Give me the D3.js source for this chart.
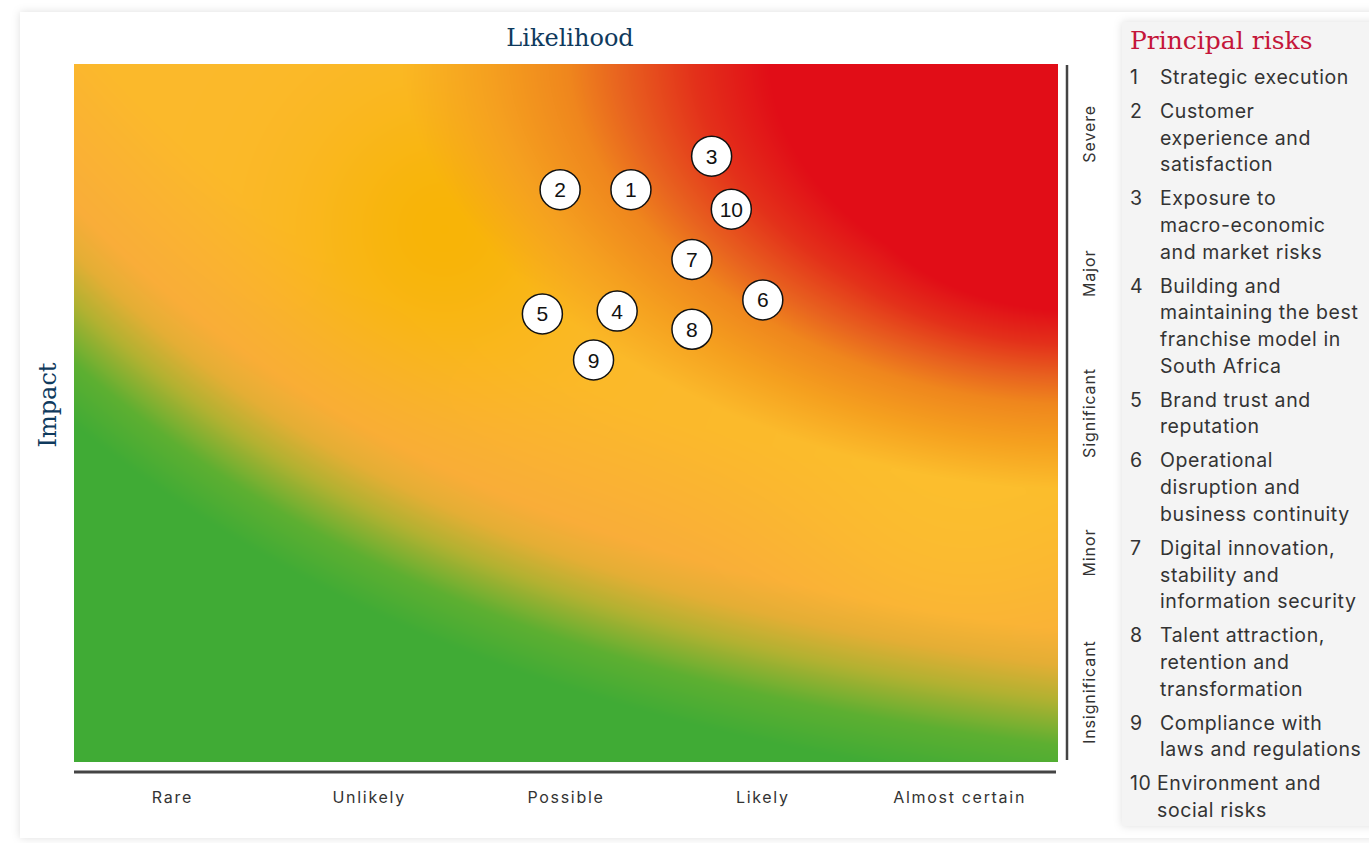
<!DOCTYPE html>
<html>
<head>
<meta charset="utf-8">
<script src="https://cdn.jsdelivr.net/npm/d3@7"></script>
<style>
  html, body { margin: 0; padding: 0; background: #ffffff; }
  svg { display: block; }
</style>
</head>
<body>
<svg id="chart" width="1369" height="843"></svg>
<script>
// ---- Data -------------------------------------------------------------
const likelihoodLabels = ["Rare", "Unlikely", "Possible", "Likely", "Almost certain"];
const impactLabels = ["Insignificant", "Minor", "Significant", "Major", "Severe"];

// Risk positions on a continuous 0–5 likelihood / impact scale
const riskIds        = [1, 2, 3, 4, 5, 6, 7, 8, 9, 10];
const riskLikelihood = [2.83, 2.47, 3.24, 2.76, 2.38, 3.50, 3.14, 3.14, 2.64, 3.34];
const riskImpact     = [4.10, 4.10, 4.34, 3.23, 3.21, 3.31, 3.60, 3.10, 2.88, 3.96];

const riskNames = [
  ["Strategic execution"],
  ["Customer", "experience and", "satisfaction"],
  ["Exposure to", "macro-economic", "and market risks"],
  ["Building and", "maintaining the best", "franchise model in", "South Africa"],
  ["Brand trust and", "reputation"],
  ["Operational", "disruption and", "business continuity"],
  ["Digital innovation,", "stability and", "information security"],
  ["Talent attraction,", "retention and", "transformation"],
  ["Compliance with", "laws and regulations"],
  ["Environment and", "social risks"]
];

// ---- Layout -----------------------------------------------------------
const plot = { left: 74, right: 1058, top: 64, bottom: 762 };
const W = plot.right - plot.left, H = plot.bottom - plot.top;

const svg = d3.select("#chart");
const defs = svg.append("defs");
const shadow = defs.append("filter").attr("id", "shadow")
  .attr("x", "-5%").attr("y", "-5%").attr("width", "110%").attr("height", "110%");
shadow.append("feDropShadow").attr("dx", 0).attr("dy", 0)
  .attr("stdDeviation", 4).attr("flood-color", "#000").attr("flood-opacity", 0.13);

// page card and legend panel
svg.append("rect").attr("x", 20).attr("y", 12).attr("width", 1400).attr("height", 826)
  .attr("fill", "#ffffff").attr("filter", "url(#shadow)");
svg.append("rect").attr("x", 1122).attr("y", 22).attr("width", 300).attr("height", 804)
  .attr("fill", "#f4f4f4").attr("filter", "url(#shadow)");

// ---- Scales -----------------------------------------------------------
const x = d3.scaleLinear([0, 5], [plot.left, plot.right]);
const y = d3.scaleLinear([0, 5], [plot.bottom, plot.top]);
const xBand = d3.scaleBand(likelihoodLabels, [plot.left, plot.right]);
const yBand = d3.scaleBand(impactLabels, [plot.bottom, plot.top]);

// ---- Heat field -------------------------------------------------------
function toStops(list) {
  return list.map(([t, c]) => { const r = d3.rgb(c); return [t, r.r, r.g, r.b]; });
}
function ramp(st, t) {
  if (t <= st[0][0]) return [st[0][1], st[0][2], st[0][3]];
  for (let i = 1; i < st.length; i++) {
    if (t <= st[i][0]) {
      const a = st[i - 1], b = st[i], f = (t - a[0]) / (b[0] - a[0]);
      return [a[1] + (b[1] - a[1]) * f, a[2] + (b[2] - a[2]) * f, a[3] + (b[3] - a[3]) * f];
    }
  }
  const l = st[st.length - 1];
  return [l[1], l[2], l[3]];
}
function mix(a, b, f) {
  return [a[0] + (b[0] - a[0]) * f, a[1] + (b[1] - a[1]) * f, a[2] + (b[2] - a[2]) * f];
}

const greenStops = toStops([[-90, "#40ab35"], [-45, "#5daf31"], [0, "#b2b131"], [35, "#e4ae35"]]);
const baseStops  = toStops([[70, "#f9ad39"], [200, "#fbb92b"]]);
const redStops   = toStops([[0.72, "#e10d17"], [0.86, "#e3301a"], [1.0, "#e8621f"], [1.12, "#ef861d"], [1.3, "#f5a01f"]]);
const gold = d3.rgb("#f7b300"), light = d3.rgb("#fcc22e");
const goldC = [gold.r, gold.g, gold.b], lightC = [light.r, light.g, light.b];

const canvas = document.createElement("canvas");
canvas.width = W; canvas.height = H;
const ctx = canvas.getContext("2d");
const img = ctx.createImageData(W, H);
const rx = 0.445 * W, ry = 0.448 * H, pw = 1.8;

for (let py = 0; py < H; py++) {
  for (let px = 0; px < W; px++) {
    // distance above the low-risk (green) boundary
    const ex = Math.exp(-2 * px / W);
    const gY = H - H * 0.66 * ex;
    const slope = H * 0.66 * 2 / W * ex;
    const d = (gY - py) / Math.sqrt(1 + slope * slope);

    let c = ramp(baseStops, d);
    const g1 = Math.exp(-((px - 370) ** 2 + (py - 165) ** 2) / (2 * 95 * 95));
    c = mix(c, goldC, 0.85 * g1);
    const g2 = Math.exp(-((px - 880) ** 2 + (py - 440) ** 2) / (2 * 120 * 120));
    c = mix(c, lightC, 0.6 * g2);

    // high-risk (red) corner: the fade is wider along the top than down the right side
    const dx = (W - px) / rx, dy = py / ry;
    const sx = Math.pow(dx, pw), sy = Math.pow(dy, pw);
    let E = Math.pow(sx + sy, 1 / pw);
    const a = sy / (sx + sy + 1e-9);
    if (E < 1) {
      const k = a < 0.67 ? 0.82 + 0.18 * (a / 0.67) : 1 + 0.3 * ((a - 0.67) / 0.33);
      E = 1 + (E - 1) * k;
    } else {
      E = 1 + (E - 1) * (1 + 0.4 * a);
    }
    if (E < 1.5) {
      const rc = ramp(redStops, E);
      const w = E <= 1.3 ? 1 : (1.5 - E) / 0.2;
      c = mix(c, rc, w);
    }

    // low-risk (green) band, blended into whatever lies above it
    if (d < 35) c = ramp(greenStops, d);
    else if (d < 70) c = mix(ramp(greenStops, 35), c, (d - 35) / 35);

    const k4 = (py * W + px) * 4;
    img.data[k4] = c[0]; img.data[k4 + 1] = c[1]; img.data[k4 + 2] = c[2]; img.data[k4 + 3] = 255;
  }
}
ctx.putImageData(img, 0, 0);

svg.append("image")
  .attr("x", plot.left).attr("y", plot.top)
  .attr("width", W).attr("height", H)
  .attr("preserveAspectRatio", "none")
  .attr("href", canvas.toDataURL());

// ---- Axes -------------------------------------------------------------
const xAxis = svg.append("g").attr("transform", `translate(0,${plot.bottom + 10})`)
  .call(d3.axisBottom(xBand).tickSize(0).tickPadding(0));
xAxis.select(".domain").attr("stroke", "#444").attr("stroke-width", 3)
  .attr("d", `M${plot.left},0H${plot.right - 2}`);
xAxis.selectAll("text")
  .attr("y", 25).attr("dy", "0.35em")
  .attr("font-family", "Inter, 'Open Sans', sans-serif")
  .attr("font-size", 16).attr("letter-spacing", 1.7).attr("fill", "#333");

const yAxis = svg.append("g").attr("transform", `translate(${plot.right + 9},0)`)
  .call(d3.axisRight(yBand).tickSize(0).tickPadding(0));
yAxis.select(".domain").attr("stroke", "#444").attr("stroke-width", 2.5)
  .attr("d", `M0,${plot.top + 1}V${plot.bottom - 2}`);
yAxis.selectAll("text")
  .attr("x", 0).attr("dy", "0.35em")
  .attr("text-anchor", "middle")
  .attr("transform", "translate(22,0) rotate(-90)")
  .attr("font-family", "Inter, 'Open Sans', sans-serif")
  .attr("font-size", 16).attr("letter-spacing", 0.9).attr("fill", "#333");

// axis titles
svg.append("text").text("Likelihood")
  .attr("x", 570).attr("y", 38).attr("dy", "0.35em").attr("text-anchor", "middle")
  .attr("font-family", "'DejaVu Serif', serif").attr("font-size", 24).attr("fill", "#0f3a5d");
svg.append("text").text("Impact")
  .attr("transform", "translate(48,405) rotate(-90)")
  .attr("dy", "0.35em").attr("text-anchor", "middle")
  .attr("font-family", "'DejaVu Serif', serif").attr("font-size", 24).attr("fill", "#0f3a5d");

// ---- Risk markers -----------------------------------------------------
const risks = riskIds.map((id, i) => ({ id, l: riskLikelihood[i], m: riskImpact[i] }));
const marker = svg.append("g").selectAll("g").data(risks).join("g")
  .attr("transform", d => `translate(${x(d.l)},${y(d.m)})`);
marker.append("circle").attr("r", 20)
  .attr("fill", "#ffffff").attr("stroke", "#111").attr("stroke-width", 1.5);
marker.append("text").text(d => d.id)
  .attr("text-anchor", "middle").attr("dy", "0.36em")
  .attr("font-family", "'Liberation Sans', Arial, sans-serif")
  .attr("font-size", 21).attr("fill", "#111");

// ---- Legend -----------------------------------------------------------
svg.append("text").text("Principal risks")
  .attr("x", 1130).attr("y", 40).attr("dy", "0.35em")
  .attr("font-family", "'DejaVu Serif', serif").attr("font-size", 25).attr("fill", "#c4163a");

const lineH = 26.7, itemGap = 7.3;
let cy = 77;
const legend = svg.append("g")
  .attr("font-family", "Inter, 'Open Sans', sans-serif")
  .attr("font-size", 19.5).attr("letter-spacing", 0.6).attr("fill", "#333");
riskIds.forEach((id, i) => {
  legend.append("text").text(id).attr("x", 1130).attr("y", cy).attr("dy", "0.35em");
  riskNames[i].forEach((line, j) => {
    legend.append("text").text(line)
      .attr("x", id >= 10 ? 1157 : 1160).attr("y", cy + j * lineH).attr("dy", "0.35em");
  });
  cy += riskNames[i].length * lineH + itemGap;
});
</script>
</body>
</html>
